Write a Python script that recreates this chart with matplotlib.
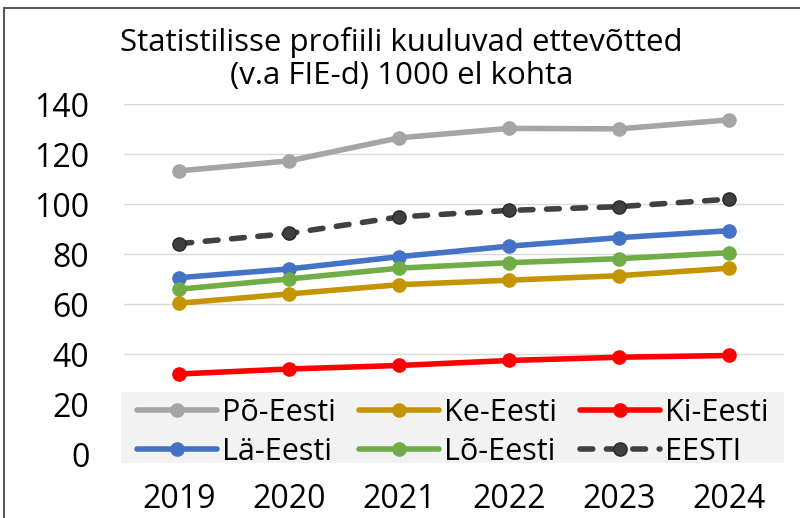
import matplotlib
matplotlib.use("Agg")
import matplotlib.pyplot as plt
from matplotlib.patches import Rectangle

years = ["2019", "2020", "2021", "2022", "2023", "2024"]
po_eesti = [113.3, 117.3, 126.5, 130.3, 130.1, 133.7]
ke_eesti = [60.4, 64.1, 67.8, 69.6, 71.4, 74.4]
ki_eesti = [32.1, 34.1, 35.5, 37.5, 38.8, 39.5]
la_eesti = [70.6, 74.1, 79.0, 83.2, 86.6, 89.4]
lo_eesti = [66.0, 70.1, 74.4, 76.6, 78.2, 80.6]
eesti = [84.2, 88.3, 94.9, 97.5, 99.0, 102.0]

names = ["Põ-Eesti", "Ke-Eesti", "Ki-Eesti", "Lä-Eesti", "Lõ-Eesti", "EESTI"]
series = [po_eesti, ke_eesti, ki_eesti, la_eesti, lo_eesti, eesti]
colors = ["#A5A5A5", "#C49500", "#FF0000", "#4472C4", "#70AD47", "#404040"]
edges = ["#A5A5A5", "#C49500", "#FF0000", "#4472C4", "#70AD47", "#262626"]
styles = ["-", "-", "-", "-", "-", (0, (2.3, 2.45))]

plt.rcParams['font.family'] = ['Open Sans', 'DejaVu Sans']

fig = plt.figure(figsize=(8, 5.18), dpi=100)
ax = fig.add_axes([0.155, 0.123, 0.825, 0.676])

x = list(range(len(years)))
handles = {}
for name, vals, c, ec, ls in zip(names, series, colors, edges, styles):
    h, = ax.plot(x, vals, color=c, linestyle=ls, linewidth=4, marker='o',
                 markersize=9.5, markerfacecolor=c, markeredgecolor=ec,
                 markeredgewidth=1, label=name,
                 solid_capstyle='round', dash_capstyle='round', zorder=3)
    handles[name] = h

ax.set_xlim(-0.5, len(years) - 0.5)
ax.set_ylim(0, 140)
ax.set_yticks(range(0, 141, 20))
ax.set_xticks(x)
ax.set_xticklabels(years)
ax.grid(axis='y', color='#D9D9D9', linewidth=1)
ax.set_axisbelow(True)
for s in ax.spines.values():
    s.set_visible(False)
ax.tick_params(axis='y', length=0, labelsize=23, pad=25)
ax.tick_params(axis='x', length=0, labelsize=23, pad=21)

# legend background
ax.add_patch(Rectangle((-0.005, -0.025), 1.005, 0.203, transform=ax.transAxes,
                       facecolor='#F2F2F2', edgecolor='none', clip_on=False, zorder=4))

order = ["Põ-Eesti", "Lä-Eesti", "Ke-Eesti", "Lõ-Eesti", "Ki-Eesti", "EESTI"]
leg = ax.legend([handles[n] for n in order], order, ncol=3, loc='center left',
                bbox_to_anchor=(0.02, 0.063), fontsize=22, frameon=False,
                handlelength=2.6, handletextpad=0.16, columnspacing=0.78,
                borderaxespad=0, borderpad=0.0, labelspacing=0.3)
leg.set_zorder(5)

fig.text(0.502, 0.918, "Statistilisse profiili kuuluvad ettevõtted", ha='center',
         va='center', fontsize=22.5)
fig.text(0.502, 0.853, "(v.a FIE-d) 1000 el kohta", ha='center', va='center', fontsize=22.5)

fig.patches.append(Rectangle((0.005, -0.5), 2, 1.5 - 8 / 518, transform=fig.transFigure,
                             fill=False, edgecolor='#595959', linewidth=1.5))

fig.savefig("out.png", dpi=100)
